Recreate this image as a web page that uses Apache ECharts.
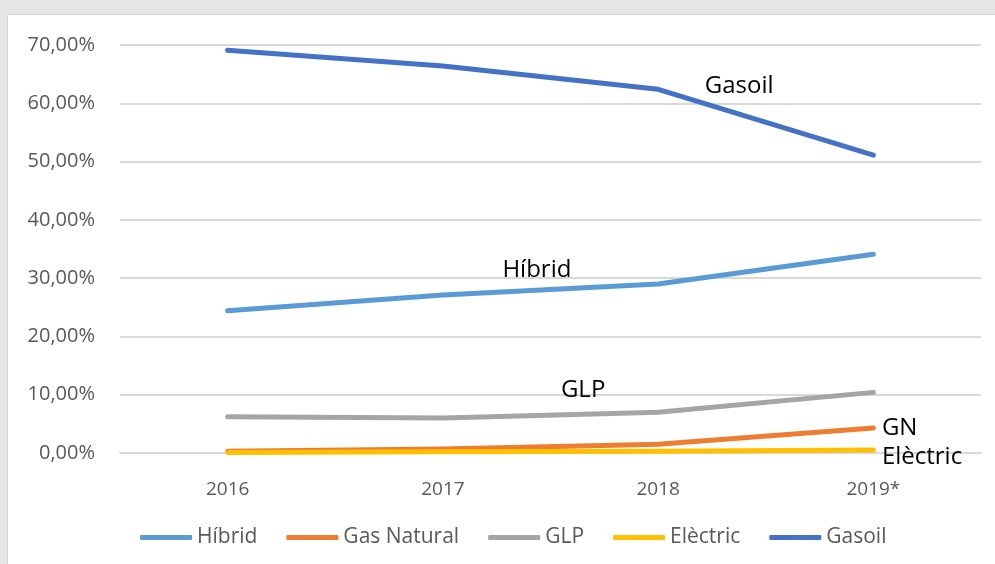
<!DOCTYPE html>
<html>
<head>
<meta charset="utf-8">
<script src="https://cdn.jsdelivr.net/npm/echarts@6/dist/echarts.min.js"></script>
<style>
  html, body { margin: 0; padding: 0; width: 995px; height: 564px; background: #e7e6e2; overflow: hidden; }
  #frame { position: absolute; left: 7px; top: 14px; width: 988px; height: 550px; background: #d6d6d6; }
  #chart { position: absolute; left: 8px; top: 15px; width: 987px; height: 549px; background: #ffffff; }
</style>
</head>
<body>
<div id="frame"></div>
<div id="chart"></div>
<script>
const categories = ['2016', '2017', '2018', '2019*'];
const hibrid = [24.4, 27.1, 29.0, 34.1];
const gasNatural = [0.3, 0.7, 1.5, 4.3];
const glp = [6.2, 6.0, 7.0, 10.4];
const electric = [0.1, 0.2, 0.3, 0.5];
const gasoil = [69.1, 66.4, 62.4, 51.1];
const yTicks = { min: 0, max: 70, interval: 10 };

const FONT = 'Open Sans';
const labelBase = { show: true, color: '#000000', fontFamily: FONT, fontSize: 24 };

function withLabel(arr, idx, label) {
  return arr.map((v, i) => i === idx ? { value: v, label: Object.assign({}, labelBase, label) } : v);
}

function mkSeries(name, data, color) {
  return {
    name: name,
    type: 'line',
    data: data,
    symbol: 'circle',
    symbolSize: 1,
    showSymbol: true,
    itemStyle: { color: color },
    lineStyle: { color: color, width: 5, cap: 'round', join: 'round' },
    label: { show: false },
    emphasis: { disabled: true },
    silent: true,
    animation: false
  };
}

const chart = echarts.init(document.getElementById('chart'));
chart.setOption({
  backgroundColor: '#ffffff',
  animation: false,
  grid: { left: 112, right: 14, top: 30, bottom: 111, containLabel: false },
  legend: {
    left: 127,
    top: 507,
    icon: 'roundRect',
    itemWidth: 52,
    itemHeight: 5,
    itemGap: 29,
    textStyle: { color: '#595959', fontFamily: FONT, fontSize: 21, padding: [0, 0, 0, 0] },
    data: ['Híbrid', 'Gas Natural', 'GLP', 'Elèctric', 'Gasoil']
  },
  xAxis: {
    type: 'category',
    data: categories,
    boundaryGap: true,
    axisLine: { show: true, lineStyle: { color: '#d9d9d9', width: 2 } },
    axisTick: { show: false },
    axisLabel: { color: '#595959', fontFamily: FONT, fontSize: 19, margin: 27 }
  },
  yAxis: {
    type: 'value',
    min: yTicks.min,
    max: yTicks.max,
    interval: yTicks.interval,
    axisLine: { show: false },
    axisTick: { show: false },
    splitLine: { lineStyle: { color: '#d9d9d9', width: 2 } },
    axisLabel: {
      color: '#595959', fontFamily: FONT, fontSize: 20, margin: 25,
      formatter: v => v.toFixed(2).replace('.', ',') + '%'
    }
  },
  series: [
    mkSeries('Híbrid', withLabel(hibrid, 1, { position: 'inside', offset: [94, -25] }), '#5b9bd5'),
    mkSeries('Gas Natural', withLabel(gasNatural, 3, { position: 'right', distance: 8, formatter: 'GN' }), '#ed7d31'),
    mkSeries('GLP', withLabel(glp, 2, { position: 'inside', offset: [-75, -22] }), '#a5a5a5'),
    mkSeries('Elèctric', withLabel(electric, 3, { position: 'right', distance: 8, offset: [0, 7] }), '#ffc000'),
    mkSeries('Gasoil', withLabel(gasoil, 2, { position: 'inside', offset: [81, -3] }), '#4472c4')
  ].map(s => {
    s.label = { show: false, formatter: '{a}' };
    s.data = s.data.map(d => {
      if (typeof d === 'object' && d.label && !d.label.formatter) d.label.formatter = s.name;
      return d;
    });
    return s;
  })
});
</script>
</body>
</html>
